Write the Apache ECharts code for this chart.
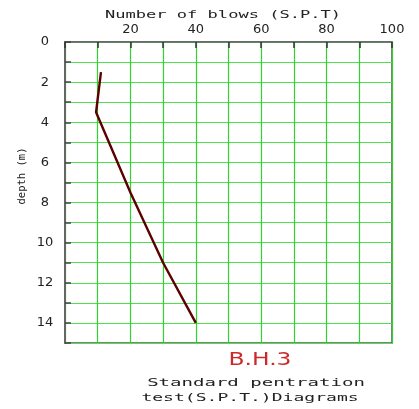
<!DOCTYPE html>
<html><head><meta charset="utf-8">
<script src="https://cdn.jsdelivr.net/npm/echarts@6/dist/echarts.min.js"></script>
<style>html,body{margin:0;padding:0;background:#fff}#c{width:419px;height:409px}</style>
</head><body><div id="c"></div>
<script>
var blows = [11, 9.5, 20, 30, 40];
var depths = [1.5, 3.5, 7.5, 11, 14];
var xTickLabels = [20, 40, 60, 80, 100];
var yTickLabels = [0, 2, 4, 6, 8, 10, 12, 14];
var xTitle = 'Number of blows (S.P.T)';
var yTitle = 'depth (m)';
var boreHole = 'B.H.3';
var caption1 = 'Standard pentration';
var caption2 = 'test(S.P.T.)Diagrams';

var pts = blows.map(function (b, i) { return [b, depths[i]]; });
var chart = echarts.init(document.getElementById('c'));
var mono = 'DejaVu Sans Mono';
chart.setOption({
  animation: false,
  grid: { left: 65, right: 27, top: 42, bottom: 66, show: true, borderColor: '#555', borderWidth: 1.5, backgroundColor: 'transparent' },
  xAxis: {
    type: 'value', position: 'top', min: 0, max: 100, interval: 10,
    axisLine: { show: true, lineStyle: { color: '#666', width: 1.5 } },
    axisTick: { show: true, inside: true, length: 6, lineStyle: { color: '#333', width: 1.5 } },
    axisLabel: { margin: 6, color: '#222', fontFamily: 'DejaVu Sans', fontSize: 13,
      formatter: function (v) { return xTickLabels.indexOf(v) >= 0 ? String(v) : ''; } },
    splitLine: { show: true, lineStyle: { color: '#2fd42f', width: 1.2 } }
  },
  yAxis: {
    type: 'value', inverse: true, min: 0, max: 15, interval: 1,
    axisLine: { show: true, lineStyle: { color: '#666', width: 2 } },
    axisTick: { show: true, inside: true, length: 6, lineStyle: { color: '#444', width: 1.5 } },
    axisLabel: { margin: 20, align: 'center', color: '#222', fontFamily: 'DejaVu Sans', fontSize: 13,
      formatter: function (v) { return yTickLabels.indexOf(v) >= 0 ? String(v) : ''; } },
    splitLine: { show: true, lineStyle: { color: '#4ee04e', width: 1.2 } }
  },
  series: [{
    type: 'line', data: pts, showSymbol: false, symbol: 'none',
    lineStyle: { color: '#5c0000', width: 2.4 }
  }],
  graphic: [
    { type: 'text', x: 223, y: 15, scaleX: 1.55, style: { text: xTitle, font: '11px "' + mono + '"', fill: '#222', align: 'center', verticalAlign: 'middle' } },
    { type: 'text', x: 22, y: 176, rotation: Math.PI / 2, style: { text: yTitle, font: '10.5px "' + mono + '"', fill: '#222', align: 'center', verticalAlign: 'middle' } },
    { type: 'text', x: 260, y: 360, scaleX: 1.3, style: { text: boreHole, font: '18px "DejaVu Sans"', fill: '#cc2a2a', align: 'center', verticalAlign: 'middle' } },
    { type: 'text', x: 256, y: 383, scaleX: 1.73, style: { text: caption1, font: '11px "' + mono + '"', fill: '#222', align: 'center', verticalAlign: 'middle' } },
    { type: 'text', x: 250, y: 398, scaleX: 1.64, style: { text: caption2, font: '11px "' + mono + '"', fill: '#222', align: 'center', verticalAlign: 'middle' } }
  ]
});
</script></body></html>
